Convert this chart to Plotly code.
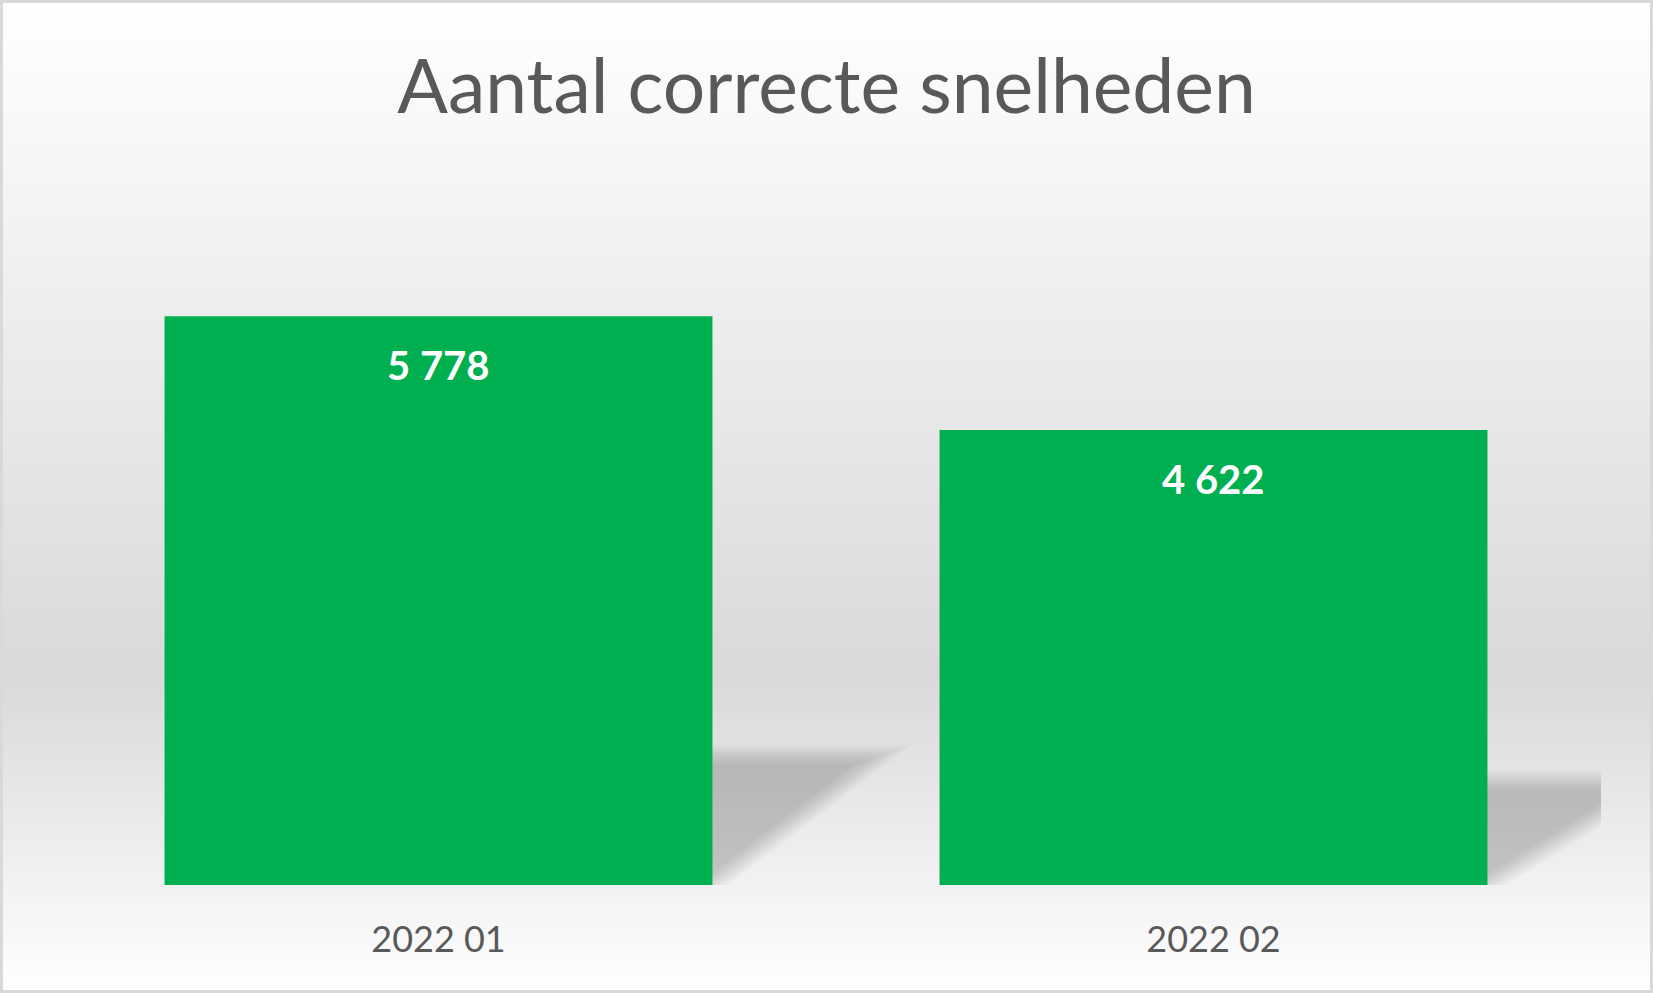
import plotly.graph_objects as go

# data
months = ["2022 01", "2022 02"]
correct_speeds = [5778, 4622]
title_text = "Aantal correcte snelheden"

W, H = 1653, 993
M_L, M_R, M_T, M_B = 51, 52, 196, 108
PW, PH = W - M_L - M_R, H - M_T - M_B
Y_MAX = 7000
BAR_W = 0.707

GREEN = "#00B050"
TEXT_GREY = "#595959"


def fmt(v):
    return f"{v:,}".replace(",", " ")


# background gradient: white -> grey -> white (built from thin strips)
def bg_shapes():
    stops = [(0.0, 255), (0.68, 217), (1.0, 255)]
    shapes = []
    n = 200
    for i in range(n):
        t = (i + 0.5) / n
        for (a, ca), (b, cb) in zip(stops[:-1], stops[1:]):
            if a <= t <= b:
                c = round(ca + (cb - ca) * (t - a) / (b - a))
                break
        y_top = i * H / n
        y_bot = (i + 1) * H / n + 0.6
        shapes.append(dict(
            type="rect", xref="paper", yref="paper", layer="below",
            x0=-M_L / PW, x1=(W - M_L) / PW,
            y0=(H - M_B - y_bot) / PH, y1=(H - M_B - y_top) / PH,
            fillcolor=f"rgb({c},{c},{c})", line_width=0))
    return shapes


# soft perspective shadow behind each bar, derived from the bar's value
def shadow_shapes():
    ppx = PW / len(months)      # px per category unit
    ppy = PH / Y_MAX            # px per value unit
    shapes = []
    n = 10
    blur = 10
    total_alpha = 0.19
    a = 1 - (1 - total_alpha) ** (1 / n)
    for i, v in enumerate(correct_speeds):
        xl = (i - BAR_W / 2) * ppx
        xr = (i + BAR_W / 2) * ppx
        s = 0.23 * v * ppy
        dx = 0.22 * ppx
        sin_t = s / (s ** 2 + dx ** 2) ** 0.5
        for k in range(n):
            d = -blur + 2 * blur * k / (n - 1)
            top = s + d
            tip = xr + dx * top / s + d / sin_t
            base = xr + d / sin_t
            pts = [(xl, 0), (base, 0), (tip, top), (xl + dx, top)]
            path = "M " + " L ".join(f"{px / ppx},{py / ppy}" for px, py in pts) + " Z"
            shapes.append(dict(type="path", xref="x", yref="y", layer="below",
                               path=path, fillcolor=f"rgba(0,0,0,{a:.4f})",
                               line_width=0))
    return shapes


fig = go.Figure(go.Bar(
    x=list(range(len(months))), y=correct_speeds,
    width=BAR_W, marker_color=GREEN, marker_line_width=0,
    hoverinfo="skip"))

annotations = [
    dict(x=i, y=v, xref="x", yref="y", text=fmt(v), showarrow=False,
         yanchor="top", yshift=-23,
         font=dict(family="Lato", size=40, color="white", weight="bold"))
    for i, v in enumerate(correct_speeds)
]

border = dict(type="rect", xref="paper", yref="paper", layer="above",
              x0=(-M_L + 1.5) / PW, x1=(W - M_L - 1.5) / PW,
              y0=(-M_B + 1.5) / PH, y1=(H - M_B - 1.5) / PH,
              line=dict(color="#D9D9D9", width=3), fillcolor="rgba(0,0,0,0)")

fig.update_layout(
    width=W, height=H,
    margin=dict(l=M_L, r=M_R, t=M_T, b=M_B),
    paper_bgcolor="white",
    plot_bgcolor="rgba(0,0,0,0)",
    showlegend=False,
    title=dict(text=title_text, x=0.5, xref="container", xanchor="center",
               y=1 - 87 / H, yanchor="middle",
               font=dict(family="Lato", size=75, color=TEXT_GREY)),
    xaxis=dict(range=[-0.5, len(months) - 0.5], tickmode="array",
               tickvals=list(range(len(months))), ticktext=months,
               showgrid=False, zeroline=False, showline=False, ticks="",
               ticklabelstandoff=30,
               tickfont=dict(family="Lato", size=36, color=TEXT_GREY)),
    yaxis=dict(range=[0, Y_MAX], visible=False, showgrid=False),
    shapes=bg_shapes() + shadow_shapes() + [border],
    annotations=annotations,
)

# page margin off so the chart fills the window exactly
fig.write_html("out.html", config={"displayModeBar": False},
               post_script="document.body.style.margin='0px';")
